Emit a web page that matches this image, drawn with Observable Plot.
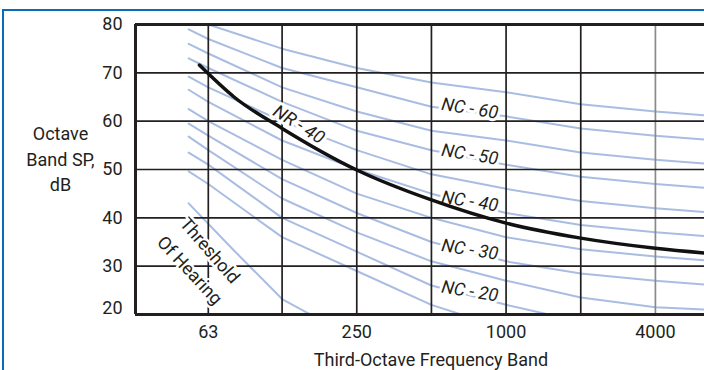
<!DOCTYPE html>
<html><head><meta charset="utf-8">
<script src="https://cdn.jsdelivr.net/npm/d3@7"></script>
<script src="https://cdn.jsdelivr.net/npm/@observablehq/plot@0.6"></script>
<style>
html,body{margin:0;padding:0;background:#fff;}
#wrap{position:relative;width:704px;height:370px;overflow:hidden;}
#border{position:absolute;left:2px;top:9px;width:800px;height:500px;border-left:2px solid #0b6bb7;border-top:2px solid #0b6bb7;}
#chart{position:absolute;left:0;top:0;}
</style></head><body>
<div id="wrap"><div id="border"></div><div id="chart"></div></div>
<script>
// Octave-band frequencies (Hz) the NC curves are read at
const freqs = [52.5, 63, 125, 250, 500, 1000, 2000, 4000, 8000];
// NC curve levels (dB) at each frequency above
const nc15 = [49.6, 47, 36, 29, 22, 17, 13.5, 11, 9.8];
const nc20 = [53.5, 51, 40, 33, 26, 22, 18.5, 16, 14.8];
const nc25 = [56.8, 54, 44, 37, 31, 27, 23.5, 21.5, 20.8];
const nc30 = [59.5, 57, 48, 41, 35, 31, 28.5, 27, 25.8];
const nc35 = [62.5, 60, 52, 45, 40, 36, 33.5, 32, 30.8];
const nc40 = [66.5, 64, 56, 50, 45, 41, 38.5, 37, 35.8];
const nc45 = [69.2, 67, 60, 54, 49, 46, 43.5, 42, 40.8];
const nc50 = [73, 71, 64, 58, 54, 51, 48.5, 47, 45.8];
const nc55 = [76, 74, 67, 62, 58, 56, 53.5, 52, 50.8];
const nc60 = [79, 77, 71, 67, 63, 61, 58.5, 57, 55.8];
const nc65 = [81.5, 80, 75, 71, 68, 66, 63.5, 62, 60.8];
const ncNames = ["NC-15","NC-20","NC-25","NC-30","NC-35","NC-40","NC-45","NC-50","NC-55","NC-60","NC-65"];
const ncValues = [nc15, nc20, nc25, nc30, nc35, nc40, nc45, nc50, nc55, nc60, nc65];

// Threshold of hearing
const thrFreq = [52.5, 78, 125, 160, 200];
const thrDb = [43, 33.8, 23.2, 20.2, 18.6];

// NR-40 curve
const nrFreq = [58, 80, 125, 250, 500, 1000, 2000, 4000, 8000];
const nrDb = [71.6, 65, 58.5, 49.9, 43.7, 38.9, 35.8, 33.7, 32.3];

// Labels
const ncLabelText = ["NC - 60", "NC - 50", "NC - 40", "NC - 30", "NC - 20"];
const ncLabelFreq = [714, 714, 714, 714, 714];
const ncLabelDb = [62.6, 53.1, 43.4, 33.4, 24.8];
const nrLabel = {text: "NR - 40", f: 146, db: 59.3};
const thrLabelText = ["Threshold", "Of Hearing"];
const thrLabelFreq = [63.8, 52.9];
const thrLabelDb = [33.2, 29.1];
const thrLabelRotate = [49, 47];

// Axes
const xTicks = [63, 250, 1000, 4000];
const xGridBlack = [63, 125, 250, 500, 1000, 2000];
const xGridGray = [4000];
const yTicks = [30, 40, 50, 60, 70, 80];
const yGrid = [30, 40, 50, 60, 70];
const xDomain = [32.05, 6309];
const yDomain = [20, 80];

const ncRows = ncNames.flatMap((name, j) => freqs.map((f, i) => ({curve: name, f, db: ncValues[j][i]})));
const thrRows = thrFreq.map((f, i) => ({f, db: thrDb[i]}));
const nrRows = nrFreq.map((f, i) => ({f, db: nrDb[i]}));
const ncLabels = ncLabelText.map((t, i) => ({t, f: ncLabelFreq[i], db: ncLabelDb[i]}));
const thrLabels = thrLabelText.map((t, i) => ({t, f: thrLabelFreq[i], db: thrLabelDb[i], r: thrLabelRotate[i]}));

const blue = "#a9bde2";
const ink = "#231f20";
const FONT = "Roboto, 'Noto Sans', sans-serif";

const chart = Plot.plot({
  width: 704, height: 370,
  marginLeft: 135, marginRight: 0, marginTop: 24, marginBottom: 56,
  style: {fontFamily: FONT, fontSize: "18px", color: ink, background: "transparent", overflow: "visible"},
  x: {type: "log", domain: xDomain, axis: null},
  y: {domain: yDomain, axis: null},
  marks: [
    Plot.line(ncRows, {x: "f", y: "db", z: "curve", stroke: blue, strokeWidth: 2, clip: true}),
    Plot.line(thrRows, {x: "f", y: "db", stroke: blue, strokeWidth: 2, clip: true}),
    Plot.ruleX(xGridBlack, {x: d => d, stroke: ink, strokeWidth: 1.7}),
    Plot.ruleX(xGridGray, {x: d => d, stroke: "#8a8a8a", strokeWidth: 1.7}),
    Plot.ruleY(yGrid, {stroke: ink, strokeWidth: 1.7}),
    Plot.text(ncLabels, {x: "f", y: "db", text: "t", rotate: 9, fontStyle: "italic", fontSize: 18,
      fill: ink, stroke: "white", strokeWidth: 6, paintOrder: "stroke"}),
    Plot.text([nrLabel], {x: "f", y: "db", text: "text", rotate: 32, fontStyle: "italic", fontSize: 18,
      fill: ink, stroke: "white", strokeWidth: 6, paintOrder: "stroke"}),
    Plot.text(thrLabels, {x: "f", y: "db", text: "t", rotate: "r", fontSize: 18,
      fill: ink, stroke: "white", strokeWidth: 5, paintOrder: "stroke"}),
    Plot.line(nrRows, {x: "f", y: "db", curve: "monotone-x", stroke: "#111", strokeWidth: 3.5, clip: true}),
    Plot.ruleY(yDomain, {stroke: ink, strokeWidth: 3}),
    Plot.ruleX([xDomain[0]], {stroke: ink, strokeWidth: 3}),
    Plot.text(xTicks, {x: d => d, text: d => String(d), frameAnchor: "bottom", lineAnchor: "top", dy: 11, fontSize: 18, fill: ink}),
    Plot.axisY({ticks: yTicks, tickSize: 0, tickPadding: 13, label: null, tickFormat: d => String(d), fontSize: 18, fill: ink}),
    Plot.axisY({ticks: [20], tickSize: 0, tickPadding: 13, label: null, dy: -6, tickFormat: d => String(d), fontSize: 18, fill: ink}),
    Plot.text(["Octave\nBand SP,\ndB"], {frameAnchor: "left", textAnchor: "middle", lineAnchor: "middle",
      dx: -75, dy: -12, lineHeight: 1.42, fontSize: 18, fill: ink}),
    Plot.text(["Third-Octave Frequency Band"], {frameAnchor: "bottom", textAnchor: "middle", lineAnchor: "middle",
      dx: 11, dy: 46, fontSize: 18, fill: ink})
  ]
});
document.getElementById("chart").appendChild(chart);
</script>
</body></html>
